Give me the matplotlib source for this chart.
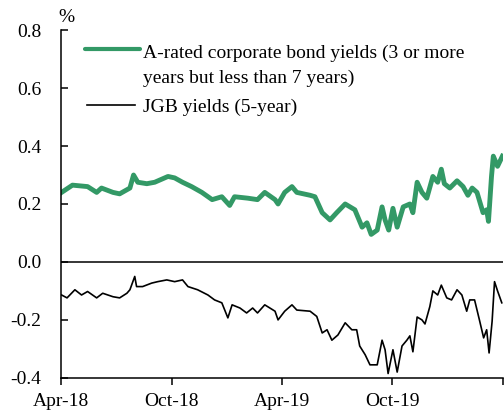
import pandas as pd
import matplotlib
matplotlib.use("Agg")
from matplotlib import pyplot as plt

# chart data -----
corp_dates = [
    "2018-04-02", "2018-04-20", "2018-05-15", "2018-05-30", "2018-06-07", "2018-06-26",
    "2018-07-07", "2018-07-24", "2018-07-30", "2018-08-06", "2018-08-21", "2018-09-03",
    "2018-09-25", "2018-10-06", "2018-10-19", "2018-11-03", "2018-11-20", "2018-12-07",
    "2018-12-23", "2019-01-05", "2019-01-13", "2019-02-04", "2019-02-20", "2019-03-04",
    "2019-03-21", "2019-03-26", "2019-04-06", "2019-04-18", "2019-04-26", "2019-05-18",
    "2019-05-26", "2019-06-07", "2019-06-20", "2019-07-01", "2019-07-15", "2019-07-31",
    "2019-08-12", "2019-08-20", "2019-08-27", "2019-09-06", "2019-09-14", "2019-09-19",
    "2019-09-25", "2019-10-02", "2019-10-09", "2019-10-19", "2019-10-30", "2019-11-04",
    "2019-11-11", "2019-11-19", "2019-11-27", "2019-12-07", "2019-12-15", "2019-12-21",
    "2019-12-26", "2020-01-04", "2020-01-16", "2020-01-26", "2020-02-03", "2020-02-10",
    "2020-02-18", "2020-02-28", "2020-03-05", "2020-03-08", "2020-03-13", "2020-03-16",
    "2020-03-23", "2020-03-31",
]
corp_yields = [
    0.24, 0.265, 0.26, 0.24, 0.255, 0.24,
    0.235, 0.255, 0.30, 0.275, 0.27, 0.275,
    0.295, 0.29, 0.275, 0.26, 0.24, 0.215,
    0.225, 0.195, 0.225, 0.22, 0.215, 0.24,
    0.215, 0.20, 0.24, 0.26, 0.24, 0.23,
    0.225, 0.17, 0.145, 0.17, 0.20, 0.18,
    0.12, 0.135, 0.095, 0.11, 0.19, 0.145,
    0.11, 0.185, 0.12, 0.19, 0.20, 0.17,
    0.275, 0.24, 0.22, 0.295, 0.275, 0.32,
    0.27, 0.255, 0.28, 0.26, 0.23, 0.255,
    0.24, 0.17, 0.18, 0.14, 0.295, 0.365,
    0.33, 0.365,
]

jgb_dates = [
    "2018-04-02", "2018-04-11", "2018-04-24", "2018-05-05", "2018-05-15", "2018-05-30",
    "2018-06-09", "2018-06-26", "2018-07-07", "2018-07-19", "2018-07-24", "2018-08-01",
    "2018-08-04", "2018-08-14", "2018-08-29", "2018-09-08", "2018-09-23", "2018-10-06",
    "2018-10-19", "2018-10-28", "2018-11-13", "2018-11-30", "2018-12-11", "2018-12-23",
    "2019-01-02", "2019-01-09", "2019-01-22", "2019-02-02", "2019-02-12", "2019-02-20",
    "2019-03-04", "2019-03-21", "2019-03-26", "2019-04-06", "2019-04-18", "2019-04-26",
    "2019-05-18", "2019-05-29", "2019-06-07", "2019-06-15", "2019-06-23", "2019-07-03",
    "2019-07-15", "2019-07-26", "2019-08-03", "2019-08-08", "2019-08-17", "2019-08-25",
    "2019-09-06", "2019-09-14", "2019-09-19", "2019-09-24", "2019-10-02", "2019-10-09",
    "2019-10-17", "2019-10-25", "2019-10-30", "2019-11-04", "2019-11-11", "2019-11-19",
    "2019-11-24", "2019-12-02", "2019-12-07", "2019-12-15", "2019-12-21", "2019-12-30",
    "2020-01-07", "2020-01-16", "2020-01-24", "2020-02-01", "2020-02-06", "2020-02-14",
    "2020-02-22", "2020-02-29", "2020-03-05", "2020-03-09", "2020-03-14", "2020-03-18",
    "2020-03-23", "2020-03-30",
]
jgb_yields = [
    -0.114, -0.124, -0.096, -0.114, -0.102, -0.124,
    -0.108, -0.12, -0.124, -0.108, -0.096, -0.05,
    -0.085, -0.085, -0.073, -0.068, -0.062, -0.068,
    -0.062, -0.085, -0.096, -0.114, -0.131, -0.141,
    -0.193, -0.148, -0.159, -0.176, -0.159, -0.176,
    -0.148, -0.17, -0.20, -0.17, -0.148, -0.166,
    -0.17, -0.188, -0.245, -0.234, -0.27, -0.252,
    -0.21, -0.234, -0.234, -0.29, -0.32, -0.355,
    -0.355, -0.27, -0.303, -0.385, -0.303, -0.38,
    -0.29, -0.27, -0.255, -0.31, -0.19, -0.20,
    -0.214, -0.154, -0.10, -0.114, -0.08, -0.124,
    -0.131, -0.096, -0.114, -0.17, -0.131, -0.131,
    -0.20, -0.262, -0.234, -0.314, -0.205, -0.068,
    -0.10, -0.141,
]

tick_dates = ["2018-04-01", "2018-10-01", "2019-04-01", "2019-10-01", "2020-04-01"]
tick_labels = ["Apr-18", "Oct-18", "Apr-19", "Oct-19", ""]
y_ticks = [-0.4, -0.2, 0.0, 0.2, 0.4, 0.6, 0.8]

corp_label = ["A-rated corporate bond yields (3 or more", "years but less than 7 years)"]
jgb_label = "JGB yields (5-year)"

green = "#339966"

# style -----
plt.rcParams["font.family"] = ["Liberation Serif", "DejaVu Serif"]
plt.rcParams["font.size"] = 14

fig = plt.figure(figsize=(5.04, 4.18), dpi=100)
ax = fig.add_axes([0.121, 0.096, 0.877, 0.832])

ax.plot(pd.to_datetime(corp_dates), corp_yields, color=green, lw=3.5,
        solid_joinstyle="round")
ax.plot(pd.to_datetime(jgb_dates), jgb_yields, color="black", lw=1.2)
ax.axhline(0, color="black", lw=1.1)

ax.set_xlim(pd.Timestamp("2018-04-01"), pd.Timestamp("2020-04-01"))
ax.set_ylim(-0.4, 0.8)
ax.set_yticks(y_ticks)
ax.set_yticklabels([f"{v:.1f}" for v in y_ticks])
ax.set_xticks(pd.to_datetime(tick_dates))
ax.set_xticklabels(tick_labels)

for side in ["top", "right"]:
    ax.spines[side].set_visible(False)
for side in ["left", "bottom"]:
    ax.spines[side].set_linewidth(1.1)
ax.tick_params(axis="y", direction="in", length=5, width=1.1, pad=14)
ax.tick_params(axis="x", direction="out", length=5, width=1.1, pad=6)

ax.text(-0.005, 1.023, "%", transform=ax.transAxes, ha="left", va="baseline")

# legend, drawn by hand so the green key sits on the first text line ----
ax.plot([0.054, 0.179], [0.9445, 0.9445], color=green, lw=3.0,
        transform=ax.transAxes, solid_capstyle="round", clip_on=False)
ax.plot([0.059, 0.167], [0.7845, 0.7845], color="black", lw=1.2,
        transform=ax.transAxes, clip_on=False)
ax.text(0.1855, 0.9195, corp_label[0], transform=ax.transAxes, va="baseline")
ax.text(0.1855, 0.8477, corp_label[1], transform=ax.transAxes, va="baseline")
ax.text(0.1855, 0.7644, jgb_label, transform=ax.transAxes, va="baseline")

fig.savefig("out.png", dpi=100)
